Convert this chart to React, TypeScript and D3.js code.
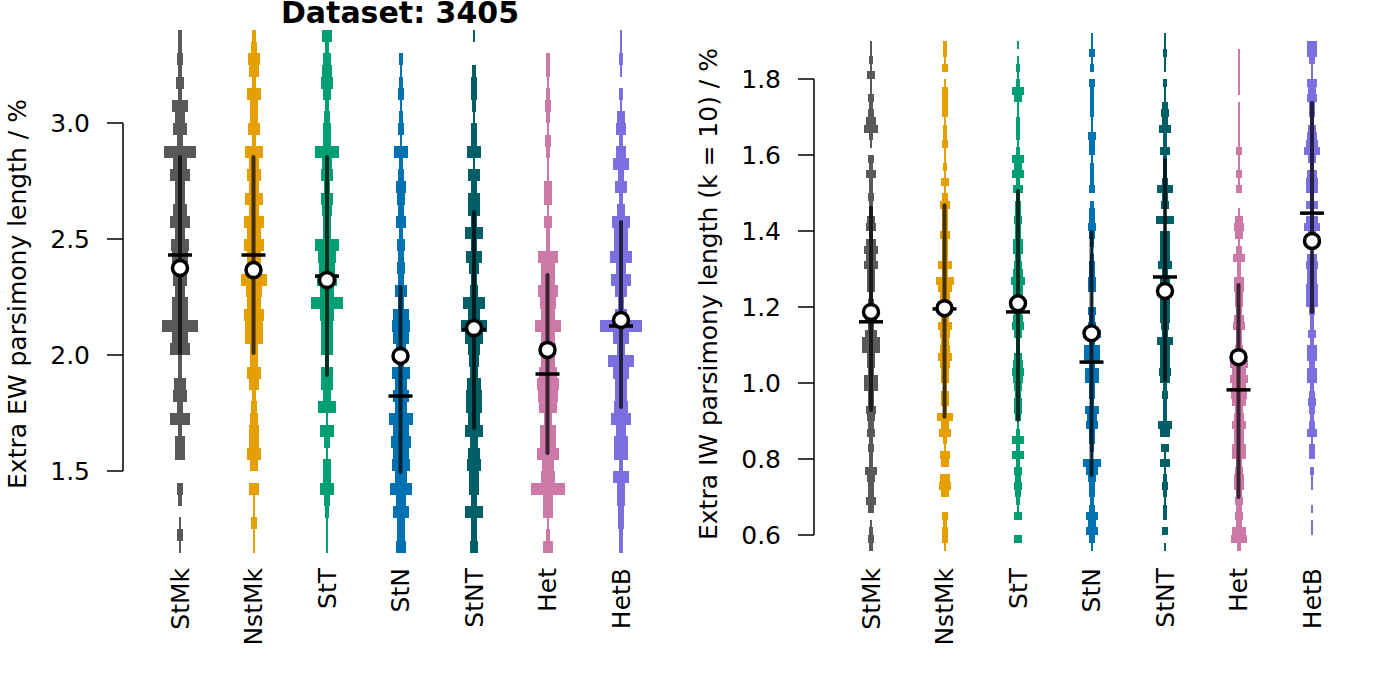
import * as d3 from 'd3';

const categories = ['StMk', 'NstMk', 'StT', 'StN', 'StNT', 'Het', 'HetB'];
const palette = ['#595959', '#E69F00', '#009E73', '#0072B2', '#005F66', '#CC79A7', '#7B6FE0'];

// EW panel: histogram bins of 0.05 %, listed from 3.40 downwards
const ewBinTop = 3.4;
const ewBinStep = 0.05;
const ewStMk = [2,2,3,2,4,2,8,5,7,3,16,7,10,5,5,7,10,5,9,8,5,7,5,8,8,18,8,10,2,2,6,7,3,10,2,5,5,0,0,3,2,0,1,3,1];
const ewNstMk = [2,3,6,5,2,7,4,4,6,2,9,5,7,5,9,5,10,7,10,7,5,13,8,7,10,9,9,4,4,7,5,2,3,4,5,5,7,4,0,5,1,1,3,1,1];
const ewStT = [5,2,4,5,6,4,2,3,4,4,12,5,6,3,6,5,4,4,12,9,8,10,7,16,7,6,6,6,2,6,6,4,9,1,7,3,1,4,4,7,3,2,1,1,1];
const ewStN = [0,0,2,1,2,3,1,2,3,1,7,2,3,5,4,3,5,2,4,3,4,3,6,3,8,9,8,5,3,9,6,8,6,12,8,10,8,9,6,11,5,8,4,4,5];
const ewStNT = [1,0,0,2,3,3,2,1,3,3,7,1,6,3,6,6,3,9,3,8,5,3,4,11,6,13,9,6,5,4,7,8,8,6,9,4,6,7,5,5,3,9,3,3,4];
const ewHet = [0,0,2,2,1,2,3,2,1,3,2,1,1,4,4,1,4,2,2,10,7,7,10,8,7,13,7,8,7,9,11,10,9,4,8,8,11,6,7,17,5,5,1,2,5];
const ewHetB = [1,1,2,1,0,2,1,4,5,2,5,8,3,6,2,4,9,7,7,11,5,10,6,3,6,21,8,4,13,8,6,6,7,10,5,7,7,2,8,4,4,3,3,2,2];
const ewCounts = [ewStMk, ewNstMk, ewStT, ewStN, ewStNT, ewHet, ewHetB];
const ewMean = [2.375, 2.366, 2.323, 1.996, 2.116, 2.022, 2.151];
const ewMedian = [2.431, 2.431, 2.34, 1.823, 2.11, 1.918, 2.125];
const ewLow = [2.009, 2.009, 1.914, 1.496, 1.685, 1.578, 1.776];
const ewHigh = [2.853, 2.853, 2.853, 2.293, 2.616, 2.345, 2.573];
const ewTicks = [1.5, 2.0, 2.5, 3.0];

// IW panel: histogram bins of 0.02 %, listed from 1.92 downwards
const iwBinTop = 1.92;
const iwBinStep = 0.02;
const iwStMk = [0,1,1,2,1,4,1,1,3,2,3,5,7,2,1,0,3,2,5,2,2,3,2,2,4,5,2,5,7,5,7,4,4,4,2,3,3,6,3,6,9,9,4,4,3,7,7,3,3,5,4,3,4,2,3,2,2,6,4,3,3,5,3,0,1,2,3,2];
const iwNstMk = [0,2,2,1,3,0,1,3,3,3,3,1,2,2,3,1,1,2,1,4,1,3,5,3,3,3,5,3,3,3,7,3,9,7,5,5,4,4,7,5,4,5,7,5,4,4,2,4,4,2,8,4,6,2,1,5,4,0,5,6,4,0,0,3,2,3,3,1];
const iwStT = [0,1,0,1,2,1,2,6,4,1,1,2,2,2,1,2,6,4,6,2,5,2,3,3,4,3,3,5,5,3,4,5,7,5,5,4,4,5,6,4,2,2,4,5,6,5,4,3,4,4,3,1,2,6,2,6,2,4,3,4,3,2,1,4,0,0,4,0];
const iwStN = [1,1,3,1,2,0,3,2,2,2,2,1,1,4,3,3,1,2,2,2,3,0,2,3,3,4,3,2,1,2,3,3,4,4,1,1,4,3,4,9,3,8,8,3,7,7,3,3,2,7,5,6,3,3,2,1,9,6,4,3,3,2,3,6,4,6,3,1];
const iwStNT = [1,1,2,1,1,0,2,1,1,3,4,3,6,2,2,5,2,2,2,3,8,3,4,1,9,1,5,5,5,5,7,3,5,5,4,5,5,5,4,3,8,5,5,5,6,5,2,3,2,2,2,7,5,0,4,1,5,1,2,3,2,1,2,2,0,3,0,1];
const iwHet = [0,0,1,1,1,1,1,1,0,1,1,1,1,1,1,3,1,1,3,1,3,0,0,1,4,5,4,1,3,6,2,2,5,5,4,4,3,5,6,3,3,4,5,9,7,9,7,8,7,4,5,7,5,5,7,7,3,4,5,5,3,4,3,4,3,7,8,2];
const iwHetB = [0,5,5,3,1,1,5,4,5,3,3,2,4,5,6,8,4,2,5,6,6,2,6,2,6,8,4,3,1,5,6,5,5,6,6,6,3,2,2,4,2,5,5,3,5,5,2,3,4,3,2,3,5,1,3,3,0,2,1,1,0,0,1,0,1,1,0,0];
const iwCounts = [iwStMk, iwNstMk, iwStT, iwStN, iwStNT, iwHet, iwHetB];
const iwMean = [1.187, 1.197, 1.21, 1.131, 1.242, 1.068, 1.374];
const iwMedian = [1.161, 1.195, 1.187, 1.055, 1.279, 0.982, 1.447];
const iwLow = [0.929, 0.911, 0.903, 0.758, 1.008, 0.7, 1.187];
const iwHigh = [1.461, 1.468, 1.505, 1.397, 1.587, 1.258, 1.737];
const iwTicks = [0.6, 0.8, 1.0, 1.2, 1.4, 1.6, 1.8];

const FONT = '"DejaVu Sans", sans-serif';
const FS = 25;
const widthScale = d3.scaleLinear().domain([0, 1]).range([0, 2]);

type PanelProps = {
  counts: number[][];
  mean: number[];
  median: number[];
  low: number[];
  high: number[];
  binTop: number;
  binStep: number;
  ticks: number[];
  y: d3.ScaleLinear<number, number>;
  axisX: number;
  xRange: [number, number];
  label: string;
  labelX: number;
};

function Panel(p: PanelProps) {
  const x = d3.scalePoint<string>().domain(categories).range(p.xRange);
  const [yMin, yMax] = d3.extent(p.ticks) as [number, number];
  return (
    <g>
      {/* histogram bars */}
      {p.counts.map((col, ci) => {
        const cx = x(categories[ci])!;
        return (
          <g key={ci} fill={palette[ci]} shapeRendering="crispEdges">
            {col.map((c, bi) => {
              if (c === 0) return null;
              const top = p.binTop - bi * p.binStep;
              const y0 = p.y(top);
              const y1 = p.y(top - p.binStep);
              const w = widthScale(c);
              return <rect key={bi} x={cx - w / 2} y={y0} width={w} height={y1 - y0 + 0.3} />;
            })}
          </g>
        );
      })}
      {/* spread line, median, mean */}
      {categories.map((cat, ci) => {
        const cx = x(cat)!;
        return (
          <g key={cat}>
            <line x1={cx} x2={cx} y1={p.y(p.high[ci])} y2={p.y(p.low[ci])}
              stroke="#000" strokeOpacity={0.7} strokeWidth={4} strokeLinecap="round" />
            <line x1={cx - 12} x2={cx + 12} y1={p.y(p.median[ci])} y2={p.y(p.median[ci])}
              stroke="#000" strokeWidth={3.5} />
            <circle cx={cx} cy={p.y(p.mean[ci])} r={7.5} fill="#fff" stroke="#000" strokeWidth={3.5} />
          </g>
        );
      })}
      {/* axis */}
      <line x1={p.axisX} x2={p.axisX} y1={p.y(yMax)} y2={p.y(yMin)} stroke="#000" strokeWidth={1.5} />
      {p.ticks.map((t) => (
        <g key={t}>
          <line x1={p.axisX - 16} x2={p.axisX} y1={p.y(t)} y2={p.y(t)} stroke="#000" strokeWidth={1.5} />
          <text x={p.axisX - 33} y={p.y(t)} textAnchor="end" dominantBaseline="central"
            fontSize={FS} fontFamily={FONT}>{d3.format('.1f')(t)}</text>
        </g>
      ))}
      <text transform={`translate(${p.labelX},294) rotate(-90)`} textAnchor="middle"
        fontSize={FS} fontFamily={FONT}>{p.label}</text>
      {categories.map((cat) => (
        <text key={cat} transform={`translate(${x(cat)},568) rotate(-90)`} textAnchor="end"
          dominantBaseline="central" fontSize={FS} fontFamily={FONT}>{cat}</text>
      ))}
    </g>
  );
}

export default function App() {
  const yEW = d3.scaleLinear().domain([1.5, 3.0]).range([471, 123]);
  const yIW = d3.scaleLinear().domain([0.6, 1.8]).range([535, 79]);
  return (
    <svg width={1382} height={691} style={{ position: 'absolute', left: 0, top: 0, background: '#fff' }}>
      <rect width={1382} height={691} fill="#fff" />
      <Panel counts={ewCounts} mean={ewMean} median={ewMedian} low={ewLow} high={ewHigh}
        binTop={ewBinTop} binStep={ewBinStep} ticks={ewTicks} y={yEW} axisX={123}
        xRange={[180, 621]} label="Extra EW parsimony length / %" labelX={26} />
      <Panel counts={iwCounts} mean={iwMean} median={iwMedian} low={iwLow} high={iwHigh}
        binTop={iwBinTop} binStep={iwBinStep} ticks={iwTicks} y={yIW} axisX={814}
        xRange={[871, 1312]} label="Extra IW parsimony length (k = 10) / %" labelX={717} />
      <text x={400} y={22.5} textAnchor="middle" fontSize={30} fontWeight="bold" fontFamily={FONT}>
        Dataset: 3405
      </text>
    </svg>
  );
}
